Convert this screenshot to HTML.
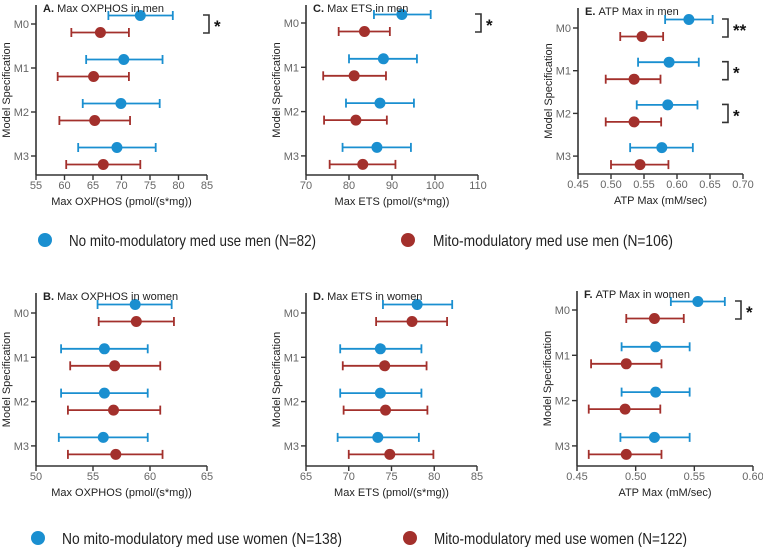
<!DOCTYPE html>
<html><head><meta charset="utf-8">
<style>
html,body{margin:0;padding:0;background:#fff;}
svg{display:block;font-family:"Liberation Sans",Arial,sans-serif;}
</style></head>
<body>
<svg id="chart" width="763" height="547" viewBox="0 0 763 547" xmlns="http://www.w3.org/2000/svg">
<g id="panels"></g>
<g>
  <circle cx="45" cy="240" r="7" fill="#1a8fd0"/>
  <text x="69" y="246" font-size="16" fill="#222" textLength="247" lengthAdjust="spacingAndGlyphs">No mito-modulatory med use men (N=82)</text>
  <circle cx="408" cy="240" r="7" fill="#a3302c"/>
  <text x="433" y="246" font-size="16" fill="#222" textLength="240" lengthAdjust="spacingAndGlyphs">Mito-modulatory med use men  (N=106)</text>
</g>
<g>
  <circle cx="38" cy="538" r="7" fill="#1a8fd0"/>
  <text x="62" y="544" font-size="16" fill="#222" textLength="280" lengthAdjust="spacingAndGlyphs">No mito-modulatory med use women  (N=138)</text>
  <circle cx="410" cy="538" r="7" fill="#a3302c"/>
  <text x="434" y="544" font-size="16" fill="#222" textLength="253" lengthAdjust="spacingAndGlyphs">Mito-modulatory med use women (N=122)</text>
</g>
</svg>
<script>
const models = ["M0","M1","M2","M3"];
// Panel A
const aBlue = [73.3,70.4,69.9,69.2];
const aBlueLo = [67.7,63.8,63.2,62.4];
const aBlueHi = [79.0,77.2,76.7,76.0];
const aRed = [66.3,65.1,65.3,66.8];
const aRedLo = [61.2,58.8,59.1,60.3];
const aRedHi = [71.3,71.3,71.5,73.3];
const aTicks = [55,60,65,70,75,80,85];
const aStars = ["*","","",""];
// Panel C
const cBlue = [92.3,88.0,87.2,86.5];
const cBlueLo = [85.8,80.0,79.3,78.5];
const cBlueHi = [99.0,95.8,95.1,94.4];
const cRed = [83.6,81.2,81.6,83.2];
const cRedLo = [77.6,74.0,74.2,75.5];
const cRedHi = [89.5,88.6,88.8,90.8];
const cTicks = [70,80,90,100,110];
const cStars = ["*","","",""];
// Panel E
const eBlue = [0.618,0.588,0.586,0.577];
const eBlueLo = [0.582,0.541,0.539,0.529];
const eBlueHi = [0.654,0.633,0.631,0.624];
const eRed = [0.547,0.535,0.535,0.544];
const eRedLo = [0.514,0.492,0.492,0.500];
const eRedHi = [0.579,0.575,0.576,0.587];
const eTicks = [0.45,0.50,0.55,0.60,0.65,0.70];
const eStars = ["**","*","*",""];
// Panel B
const bBlue = [58.7,56.0,56.0,55.9];
const bBlueLo = [55.4,52.2,52.2,52.0];
const bBlueHi = [61.9,59.8,59.8,59.8];
const bRed = [58.8,56.9,56.8,57.0];
const bRedLo = [55.5,53.0,52.8,52.8];
const bRedHi = [62.1,60.9,60.9,61.1];
const bTicks = [50,55,60,65];
const bStars = ["","","",""];
// Panel D
const dBlue = [78.0,73.7,73.7,73.4];
const dBlueLo = [74.0,69.0,69.0,68.7];
const dBlueHi = [82.1,78.5,78.5,78.2];
const dRed = [77.4,74.2,74.3,74.8];
const dRedLo = [73.2,69.3,69.4,70.0];
const dRedHi = [81.5,79.1,79.2,79.9];
const dTicks = [65,70,75,80,85];
const dStars = ["","","",""];
// Panel F
const fBlue = [0.553,0.517,0.517,0.516];
const fBlueLo = [0.530,0.488,0.488,0.487];
const fBlueHi = [0.576,0.546,0.546,0.546];
const fRed = [0.516,0.492,0.491,0.492];
const fRedLo = [0.492,0.462,0.460,0.460];
const fRedHi = [0.541,0.522,0.521,0.522];
const fTicks = [0.45,0.50,0.55,0.60];
const fStars = ["*","","",""];

const NS = "http://www.w3.org/2000/svg";
const BLUE = "#1a8fd0", RED = "#a3302c";
function mk(tag, attrs, parent){
  const e = document.createElementNS(NS, tag);
  for (const k in attrs) e.setAttribute(k, attrs[k]);
  parent.appendChild(e);
  return e;
}
function drawPanel(p){
  const root = document.getElementById("panels");
  const g = mk("g", {}, root);
  
  
  const xmin = p.ticks[0], xmax = p.ticks[p.ticks.length-1];
  const xs = v => p.x0 + (v - xmin) / (xmax - xmin) * (p.x1 - p.x0);
  const ys = i => p.yFirst + i * p.yStep;
  // axes
  const ya = mk("line", {x1:p.x0, y1:p.yTop, x2:p.x0, y2:p.yAxis, stroke:"#333", "stroke-width":1.6}, g);
  
  
  const xa = mk("line", {x1:p.x0, y1:p.yAxis, x2:p.x1, y2:p.yAxis, stroke:"#333", "stroke-width":1.6}, g);
  
  
  p.ticks.forEach(t => {
    const x = xs(t);
    mk("line", {x1:x, y1:p.yAxis, x2:x, y2:p.yAxis+5, stroke:"#333", "stroke-width":1.4}, g);
    const tl = mk("text", {x:x, y:p.yAxis+14, "font-size":11, fill:"#666", "text-anchor":"middle"}, g);
    
    
    tl.textContent = p.dec ? t.toFixed(p.dec) : String(t);
  });
  models.forEach((m, i) => {
    const y = ys(i);
    mk("line", {x1:p.x0-5, y1:y, x2:p.x0, y2:y, stroke:"#333", "stroke-width":1.4}, g);
    const ml = mk("text", {x:p.x0-7, y:y+4, "font-size":11, fill:"#666", "text-anchor":"end"}, g);
    
    
    ml.textContent = m;
    [[p.blue,p.blueLo,p.blueHi,BLUE,-8.5,'no-med'],[p.red,p.redLo,p.redHi,RED,8.5,'med']].forEach(s => {
      const yy = y + s[4];
      const eg = mk("g", {}, g);
      
      
      const l = xs(s[1][i]), r = xs(s[2][i]);
      mk("line", {x1:l, y1:yy, x2:r, y2:yy, stroke:s[3], "stroke-width":1.8}, eg);
      mk("line", {x1:l, y1:yy-4.5, x2:l, y2:yy+4.5, stroke:s[3], "stroke-width":1.8}, eg);
      mk("line", {x1:r, y1:yy-4.5, x2:r, y2:yy+4.5, stroke:s[3], "stroke-width":1.8}, eg);
      const pt = mk("circle", {cx:xs(s[0][i]), cy:yy, r:5.5, fill:s[3]}, g);
      
      
    });
    if (p.stars[i]) {
      const bx = p.bx, y1 = y - 9, y2 = y + 9;
      const br = mk("path", {d:`M${bx-6},${y1} H${bx} V${y2} H${bx-6}`, fill:"none", stroke:"#333", "stroke-width":1.6}, g);
      
      
      const st = mk("text", {x:bx+5, y:y+8, "font-size":17, "font-weight":"bold", fill:"#111"}, g);
      
      
      st.textContent = p.stars[i];
    }
  });
  const tt = mk("text", {x:p.x0+7, y:p.yTop+7, "font-size":11, fill:"#222"}, g);
  
  
  const tb = mk("tspan", {"font-weight":"bold"}, tt); tb.textContent = p.letter + ". ";
  const tr = mk("tspan", {}, tt); tr.textContent = p.title;
  const xt = mk("text", {x:(p.x0+p.x1)/2, y:p.yAxis+30, "font-size":11, fill:"#222", "text-anchor":"middle"}, g);
  
  
  xt.textContent = p.xtitle;
  const yc = (p.yTop + p.yAxis) / 2;
  const yt = mk("text", {x:p.x0-26, y:yc, "font-size":11, fill:"#222", "text-anchor":"middle", transform:`rotate(-90 ${p.x0-26} ${yc})`}, g);
  
  
  yt.textContent = "Model Specification";
}
drawPanel({id:"a", letter:"A", title:"Max OXPHOS in men", xtitle:"Max OXPHOS (pmol/(s*mg))", x0:36, x1:207, yTop:5, yAxis:175, yFirst:24, yStep:44, ticks:aTicks, dec:0, blue:aBlue, blueLo:aBlueLo, blueHi:aBlueHi, red:aRed, redLo:aRedLo, redHi:aRedHi, stars:aStars, bx:209});
drawPanel({id:"c", letter:"C", title:"Max ETS in men", xtitle:"Max  ETS (pmol/(s*mg))", x0:306, x1:478, yTop:5, yAxis:175, yFirst:23, yStep:44.3, ticks:cTicks, dec:0, blue:cBlue, blueLo:cBlueLo, blueHi:cBlueHi, red:cRed, redLo:cRedLo, redHi:cRedHi, stars:cStars, bx:481});
drawPanel({id:"e", letter:"E", title:"ATP Max in men", xtitle:"ATP  Max (mM/sec)", x0:578, x1:743, yTop:8, yAxis:174, yFirst:28, yStep:42.7, ticks:eTicks, dec:2, blue:eBlue, blueLo:eBlueLo, blueHi:eBlueHi, red:eRed, redLo:eRedLo, redHi:eRedHi, stars:eStars, bx:728});
drawPanel({id:"b", letter:"B", title:"Max OXPHOS in women", xtitle:"Max OXPHOS (pmol/(s*mg))", x0:36, x1:207, yTop:293, yAxis:466, yFirst:313, yStep:44.3, ticks:bTicks, dec:0, blue:bBlue, blueLo:bBlueLo, blueHi:bBlueHi, red:bRed, redLo:bRedLo, redHi:bRedHi, stars:bStars, bx:209});
drawPanel({id:"d", letter:"D", title:"Max  ETS in women", xtitle:"Max  ETS (pmol/(s*mg))", x0:306, x1:477, yTop:293, yAxis:466, yFirst:313, yStep:44.3, ticks:dTicks, dec:0, blue:dBlue, blueLo:dBlueLo, blueHi:dBlueHi, red:dRed, redLo:dRedLo, redHi:dRedHi, stars:dStars, bx:481});
drawPanel({id:"f", letter:"F", title:"ATP Max in women", xtitle:"ATP  Max (mM/sec)", x0:577, x1:753, yTop:291, yAxis:466, yFirst:310, yStep:45.3, ticks:fTicks, dec:2, blue:fBlue, blueLo:fBlueLo, blueHi:fBlueHi, red:fRed, redLo:fRedLo, redHi:fRedHi, stars:fStars, bx:741});
</script>
</body></html>
